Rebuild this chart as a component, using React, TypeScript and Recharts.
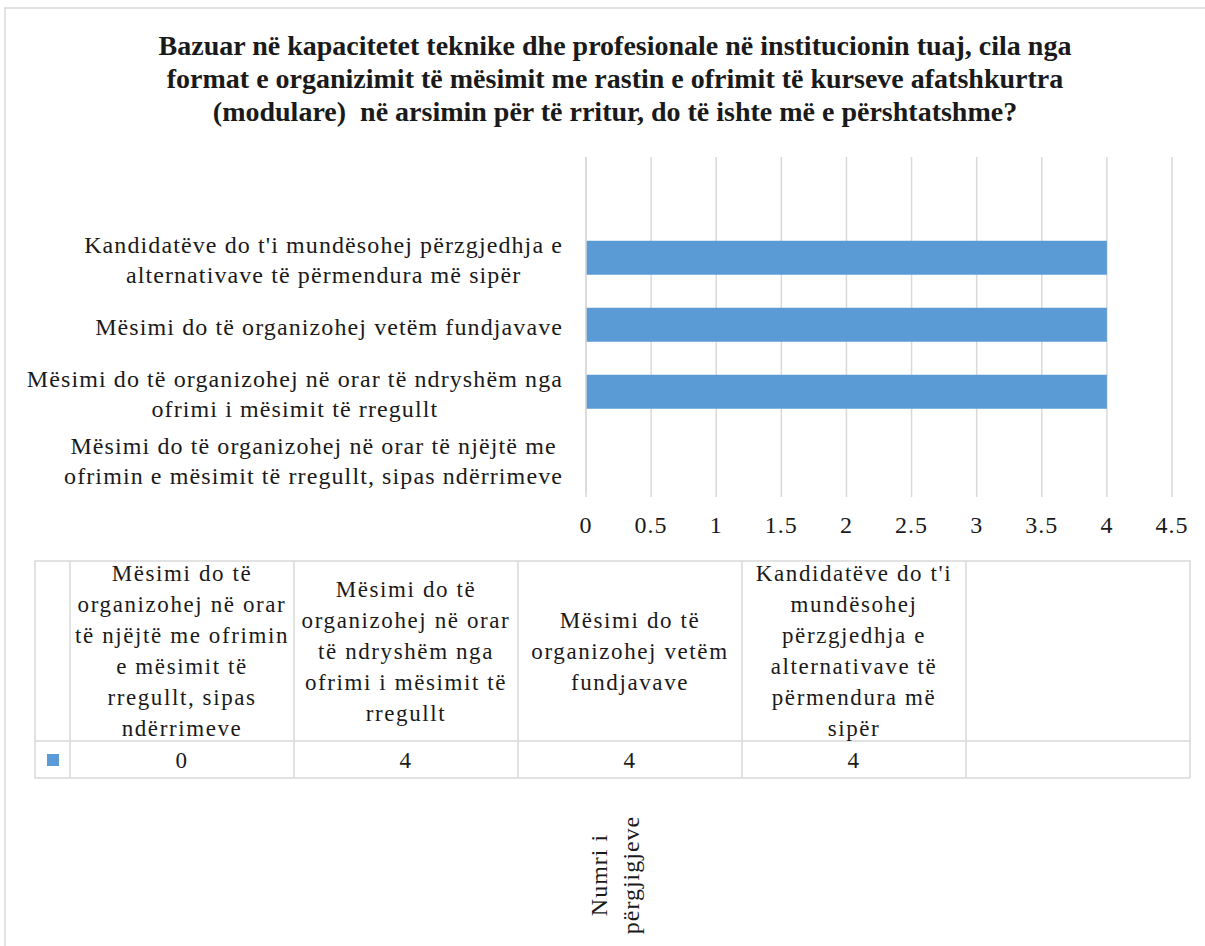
import React from "react";
import { BarChart, Bar, XAxis, YAxis, CartesianGrid } from "recharts";

// --- data ---------------------------------------------------------------
const categories = [
  "Mësimi do të organizohej në orar të njëjtë me ofrimin e mësimit të rregullt, sipas ndërrimeve",
  "Mësimi do të organizohej në orar të ndryshëm nga ofrimi i mësimit të rregullt",
  "Mësimi do të organizohej vetëm fundjavave",
  "Kandidatëve do t'i mundësohej përzgjedhja e alternativave të përmendura më sipër",
  "",
];
const responses: (number | null)[] = [0, 4, 4, 4, null];
const xTicks = [0, 0.5, 1, 1.5, 2, 2.5, 3, 3.5, 4, 4.5];

const axisLabelLines = [
  ["Mësimi do të organizohej në orar të njëjtë me", "ofrimin e mësimit të rregullt, sipas ndërrimeve"],
  ["Mësimi do të organizohej në orar të ndryshëm nga", "ofrimi i mësimit të rregullt"],
  ["Mësimi do të organizohej vetëm fundjavave"],
  ["Kandidatëve do t'i mundësohej përzgjedhja e", "alternativave të përmendura më sipër"],
  [],
];
const tableLabelLines = [
  ["Mësimi do të", "organizohej në orar", "të njëjtë me ofrimin", "e mësimit të", "rregullt, sipas", "ndërrimeve"],
  ["Mësimi do të", "organizohej në orar", "të ndryshëm nga", "ofrimi i mësimit të", "rregullt"],
  ["Mësimi do të", "organizohej vetëm", "fundjavave"],
  ["Kandidatëve do t'i", "mundësohej", "përzgjedhja e", "alternativave të", "përmendura më", "sipër"],
  [],
];
const titleLines = [
  "Bazuar në kapacitetet teknike dhe profesionale në institucionin tuaj, cila nga",
  "format e organizimit të mësimit me rastin e ofrimit të kurseve afatshkurtra",
  "(modulare)  në arsimin për të rritur, do të ishte më e përshtatshme?",
];
const seriesNameLines = ["Numri i", "përgjigjeve"];

const chartData = categories.map((name, i) => ({ name, value: responses[i] }));

const FONT = "Liberation Serif";
const BLUE = "#5b9bd5";
const GRID = "#d9d9d9";
const INK = "#1a1a1a";

let ctx: CanvasRenderingContext2D | null = null;
function textWidth(s: string, size: number, spacing: number) {
  if (!ctx) ctx = document.createElement("canvas").getContext("2d");
  if (!ctx) return s.length * (size * 0.45 + spacing);
  ctx.font = `${size}px "${FONT}"`;
  return ctx.measureText(s).width + spacing * s.length;
}

const CategoryTick = ({ x, y, payload }: { x?: number; y?: number; payload?: { value: string } }) => {
  const idx = categories.indexOf(payload?.value ?? "");
  const lines = idx >= 0 ? axisLabelLines[idx] : [];
  if (!lines.length) return null;
  const size = 24, ls = 1.1;
  const maxW = Math.max(...lines.map(l => textWidth(l, size, ls)));
  const cx = (x ?? 0) - maxW / 2;
  const lh = 30;
  const top = (y ?? 0) + 2 - ((lines.length - 1) * lh) / 2;
  return (
    <g>
      {lines.map((l, i) => (
        <text key={i} x={cx} y={top + i * lh} textAnchor="middle" dominantBaseline="central"
          style={{ fontFamily: FONT, letterSpacing: ls }} fontSize={size} fill={INK}>{l}</text>
      ))}
    </g>
  );
};

const colEdges = [35, 70, 294, 518, 742, 966, 1190];
const tableTop = 561, headerBottom = 741, tableBottom = 778;

function DataTable() {
  const lh = 31;
  const midY = (tableTop + headerBottom) / 2;
  const cellText = { fontFamily: FONT, letterSpacing: 1.6 };
  return (
    <g>
      <rect x={colEdges[0]} y={tableTop} width={colEdges[6] - colEdges[0]} height={tableBottom - tableTop}
        fill="none" stroke={GRID} strokeWidth={1.5} />
      <line x1={colEdges[0]} x2={colEdges[6]} y1={headerBottom} y2={headerBottom} stroke={GRID} strokeWidth={1.5} />
      {colEdges.slice(1, 6).map(cx => (
        <line key={cx} x1={cx} x2={cx} y1={tableTop} y2={tableBottom} stroke={GRID} strokeWidth={1.5} />
      ))}
      <rect x={47} y={754} width={12} height={12} fill={BLUE} />
      {categories.map((_, i) => {
        const lines = tableLabelLines[i];
        const cx = (colEdges[i + 1] + colEdges[i + 2]) / 2;
        const top = midY - ((lines.length - 1) * lh) / 2;
        return (
          <g key={i}>
            {lines.map((l, j) => (
              <text key={j} x={cx} y={top + j * lh} textAnchor="middle" dominantBaseline="central"
                style={cellText} fontSize={23} fill={INK}>{l}</text>
            ))}
            {responses[i] !== null && (
              <text x={cx} y={760} textAnchor="middle" dominantBaseline="central"
                style={cellText} fontSize={23} fill={INK}>{responses[i]}</text>
            )}
          </g>
        );
      })}
    </g>
  );
}

export default function App() {
  return (
    <div style={{ position: "absolute", left: 0, top: 0, width: 1205, height: 946, background: "#fff", fontFamily: FONT }}>
      <div style={{ position: "absolute", left: 0, top: 0 }}>
        <BarChart width={1205} height={946} data={chartData} layout="vertical"
          margin={{ top: 157, right: 33, left: 0, bottom: 414 }} barCategoryGap="25%">
          <CartesianGrid horizontal={false} vertical stroke={GRID} strokeWidth={1.5} />
          <XAxis type="number" domain={[0, 4.5]} ticks={xTicks} height={40}
            axisLine={false} tickLine={{ stroke: GRID, strokeWidth: 1.5 }} tickSize={5} tickMargin={19}
            tick={{ fill: INK, fontSize: 24, style: { fontFamily: FONT, letterSpacing: 1 } }} />
          <YAxis type="category" dataKey="name" reversed width={586}
            axisLine={{ stroke: GRID, strokeWidth: 1.5 }} tickLine={false} tickSize={6} tickMargin={17}
            tick={<CategoryTick />} interval={0} />
          <Bar dataKey="value" fill={BLUE} isAnimationActive={false} />
        </BarChart>
      </div>
      <svg width={1205} height={946} style={{ position: "absolute", left: 0, top: 0, pointerEvents: "none" }}>
        <rect x={5} y={8} width={1220} height={960} fill="none" stroke={GRID} strokeWidth={1.5} />
        {titleLines.map((t, i) => (
          <text key={i} x={615} y={45 + i * 33} textAnchor="middle" dominantBaseline="central"
            style={{ fontFamily: FONT, whiteSpace: "pre" }} fontWeight="bold" fontSize={28} fill={INK}>{t}</text>
        ))}
        <DataTable />
        <text transform="rotate(-90, 615, 875)" style={{ fontFamily: FONT, letterSpacing: 1 }} fontSize={24} fill={INK}>
          {seriesNameLines.map((l, i) => (
            <tspan key={i} x={615} y={875 - 16 + i * 32} textAnchor="middle" dominantBaseline="central">{l}</tspan>
          ))}
        </text>
      </svg>
    </div>
  );
}
